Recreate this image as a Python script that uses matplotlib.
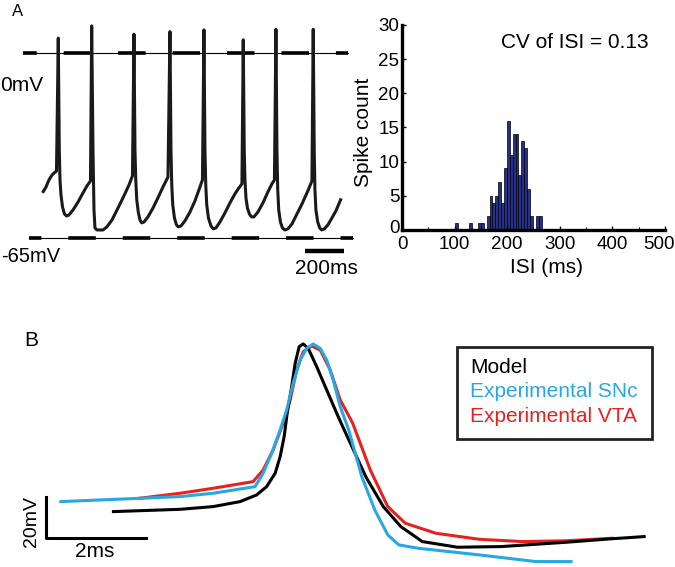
import numpy as np
import matplotlib.pyplot as plt
import matplotlib.transforms as mtransforms
from matplotlib.patches import Rectangle

plt.rcParams['font.family'] = ['Liberation Sans', 'DejaVu Sans']
plt.rcParams['lines.scale_dashes'] = False

# ---- panel A: membrane potential trace (ms, mV) ----
trace_t = [0, 13.7, 28.9, 44.2, 54.3, 67.0,
           76.1, 81.2, 84.8, 89.8, 97.5, 107.6, 118.8, 130.5, 150.8, 176.1, 201.5, 221.8, 239.6,
           245.7, 252.3, 257.4, 262.4, 272.6, 303.0, 323.3, 348.7, 379.2, 409.6, 435.0, 452.8,
           460.4, 465.5, 469.5, 474.6, 482.2, 490.9, 499.5, 511.2, 531.5, 556.9, 582.2, 607.6, 622.9, 633.0,
           643.2, 648.3, 652.3, 657.3, 666.0, 676.1, 685.3, 699.0, 719.3, 744.7, 770.0, 790.3, 808.1,
           815.7, 820.8, 824.9, 829.9, 838.6, 851.3, 862.9, 876.6, 896.9, 922.3, 947.7, 973.1, 993.4, 1008.6,
           1015.2, 1020.3, 1023.9, 1029.0, 1036.5, 1046.7, 1056.8, 1069.5, 1089.8, 1115.2, 1140.6, 1160.9, 1173.6,
           1181.2, 1186.3, 1190.3, 1195.4, 1204.0, 1214.2, 1226.9, 1242.1, 1262.4, 1287.8, 1313.2, 1338.6, 1353.8, 1364.0,
           1370.5, 1375.6, 1379.2, 1384.2, 1393.4, 1403.5, 1413.2, 1427.4, 1445.1, 1465.4, 1485.7, 1509.6]
trace_v = [-48.6, -47.0, -44.5, -42.8, -42.1, -41.4,
           5.3, -34.0, -44.5, -49.8, -54.0, -56.5, -57.2, -56.8, -55.1, -52.3, -49.1, -46.6, -44.9,
           9.6, -34.0, -55.1, -61.4, -62.1, -62.1, -61.0, -58.6, -54.4, -50.1, -46.3, -43.1,
           6.7, -34.0, -44.5, -51.5, -55.8, -58.6, -59.6, -59.3, -57.5, -54.4, -50.8, -47.0, -44.9, -43.5,
           7.6, -34.0, -46.3, -53.3, -57.9, -60.3, -61.0, -60.7, -58.9, -55.8, -51.9, -48.0, -44.5,
           8.2, -34.0, -46.3, -53.3, -57.9, -60.7, -61.7, -61.4, -59.3, -56.1, -52.6, -49.4, -47.3, -45.9,
           4.7, -34.0, -44.5, -50.8, -54.4, -56.5, -57.5, -57.5, -55.8, -52.6, -48.7, -45.9, -44.5,
           8.4, -34.0, -48.0, -55.1, -59.3, -61.4, -62.1, -61.7, -60.0, -56.5, -53.0, -49.1, -46.6, -44.9,
           8.4, -34.0, -48.0, -55.1, -59.3, -61.4, -62.1, -61.7, -60.3, -57.9, -55.4, -51.5]

# ---- ISI histogram ----
isi_bin_start = 100.5
isi_bin_width = 5.5
isi_counts = [1, 0, 0, 0, 0, 1, 0, 0, 1, 1, 0, 2, 5, 4, 5, 7, 4, 9, 16, 11,
              14, 14, 8, 13, 12, 6, 2, 0, 2, 2]

# ---- panel B: spike waveforms (ms, mV) ----
model_t = [-3.87, -2.54, -1.88, -1.34, -1.01, -0.81, -0.64, -0.54, -0.46, -0.40, -0.32, -0.24,
           -0.16, -0.08, 0.02, 0.19, 0.39, 0.59, 0.74, 1.17, 1.52, 1.87, 2.30, 3.00, 3.87, 5.18,
           6.05, 6.73]
model_v = [-47.2, -46.1, -44.8, -42.4, -39.2, -35.2, -28.8, -20.8, -11.2, 0.0, 11.2, 24.0,
           32.0, 33.3, 31.2, 22.4, 11.2, 0.0, -8.0, -30.4, -44.8, -54.4, -61.6, -64.3, -64.0, -61.9,
           -60.3, -59.2]
snc_t = [-4.92, -2.54, -1.88, -1.04, -0.88, -0.71, -0.54, -0.41, -0.28, -0.14, -0.01, 0.12, 0.26,
         0.39, 0.52, 0.66, 0.83, 1.09, 1.35, 1.61, 1.83, 2.22, 3.44, 4.57, 5.27]
snc_v = [-42.4, -40.0, -38.4, -35.2, -28.8, -19.2, -8.0, 1.6, 14.4, 25.6, 31.2, 33.3, 31.2,
         25.6, 16.0, 3.2, -8.0, -30.4, -46.4, -58.4, -63.2, -64.8, -68.0, -71.2, -71.2]
vta_t = [-3.35, -2.54, -1.88, -1.08, -0.88, -0.68, -0.48, -0.34, -0.21, -0.08, 0.09, 0.26, 0.46,
         0.66, 0.91, 1.26, 1.61, 1.96, 2.57, 3.44, 4.31, 5.18, 6.09]
vta_v = [-40.8, -38.4, -36.0, -32.8, -27.2, -17.6, -4.8, 6.4, 20.8, 29.6, 32.3, 30.4, 20.8,
         6.4, -4.8, -27.2, -44.8, -52.8, -57.6, -60.5, -61.6, -61.2, -60.0]
legend_labels = ['Model', 'Experimental SNc', 'Experimental VTA']
colors = ['black', '#27a8e3', '#e4231e']

fig = plt.figure(figsize=(6.75, 5.67), dpi=100)

# trace
ax_a = fig.add_axes([0, 0.4885, 0.548, 0.5115])
ax_a.set_xlim(-219.8, 1658.3)
ax_a.set_ylim(-83.2, 18.7)
ax_a.axis('off')
for level, x0, x1, off in [(0, -103, 1547, 9.9), (-65, -72.6, 1572, 10.9)]:
    ax_a.plot([x0, x1], [level, level], color='black', lw=0.8)
    ax_a.plot([x0, x1], [level, level], color='black', lw=2.6,
              linestyle=(off, (19.8, 19.4)), solid_capstyle='butt')
ax_a.plot(trace_t, trace_v, color='#1a1a1a', lw=2.2, solid_joinstyle='round')
ax_a.plot([1328, 1528], [-69.4, -69.4], color='black', lw=3.2, solid_capstyle='butt')

fig.text(0.026, 0.979, 'A', fontsize=12, ha='center', va='center')
fig.text(0.0, 0.85, '0mV', fontsize=15, ha='left', va='center')
fig.text(0.001, 0.548, '-65mV', fontsize=14.5, ha='left', va='center')
fig.text(0.483, 0.527, '200ms', fontsize=15, ha='center', va='center')

# histogram
ax_h = fig.add_axes([0.5956, 0.5944, 0.3894, 0.3616])
lefts = [isi_bin_start + isi_bin_width * i for i in range(len(isi_counts))]
ax_h.bar(lefts, isi_counts, width=isi_bin_width, align='edge',
         color='#26308a', edgecolor='black', linewidth=0.5)
ax_h.set_xlim(0, 500)
ax_h.set_ylim(0, 30)
ax_h.set_xticks([0, 100, 200, 300, 400, 500])
ax_h.set_xticks(range(50, 500, 100), minor=True)
ax_h.set_yticks(range(0, 31, 5))
ax_h.spines['top'].set_visible(False)
ax_h.spines['right'].set_visible(False)
ax_h.spines['left'].set_linewidth(2.4)
ax_h.spines['bottom'].set_linewidth(2.4)
ax_h.tick_params(direction='in', labelsize=13.5, length=3, width=1, pad=2)
ax_h.tick_params(axis='x', pad=4)
ax_h.tick_params(which='minor', direction='in', length=2, width=0.8)
last = ax_h.get_xticklabels()[-1]
last.set_horizontalalignment('right')
last.set_transform(last.get_transform() + mtransforms.ScaledTranslation(0.1, 0, fig.dpi_scale_trans))
first_y = ax_h.get_yticklabels()[0]
first_y.set_transform(first_y.get_transform() + mtransforms.ScaledTranslation(0, 0.03, fig.dpi_scale_trans))
ax_h.set_xlabel('ISI (ms)', fontsize=15)
ax_h.set_ylabel('Spike count', fontsize=15)
ax_h.xaxis.set_label_coords(0.548, -0.137)
ax_h.yaxis.set_label_coords(-0.110, 0.478)
ax_h.text(328, 27.5, 'CV of ISI = 0.13', fontsize=15, ha='center', va='center')

# waveforms
ax_b = fig.add_axes([0, 0, 1, 0.4885])
ax_b.set_xlim(-6.135, 7.346)
ax_b.set_ylim(-73.8, 59.2)
ax_b.axis('off')
ax_b.plot(vta_t, vta_v, color=colors[2], lw=2.2)
ax_b.plot(model_t, model_v, color=colors[0], lw=2.2)
ax_b.plot(snc_t, snc_v, color=colors[1], lw=2.2)
ax_b.plot([-5.22, -5.22, -3.22], [-40, -60, -60], color='black', lw=2.2)

fig.text(0.0467, 0.40, 'B', fontsize=15, ha='center', va='center')
fig.text(0.0467, 0.081, '20mV', fontsize=14, rotation=90, ha='center', va='center')
fig.text(0.1407, 0.028, '2ms', fontsize=15, ha='center', va='center')

fig.add_artist(Rectangle((0.6765, 0.2257), 0.29, 0.1617, transform=fig.transFigure,
                         fill=False, edgecolor='#222222', lw=2.0))
for lab, col, y in zip(legend_labels, colors, [0.3522, 0.3092, 0.2651]):
    fig.text(0.696, y, lab, color=col, fontsize=15, ha='left', va='center')

fig.savefig('out.png', dpi=100)
